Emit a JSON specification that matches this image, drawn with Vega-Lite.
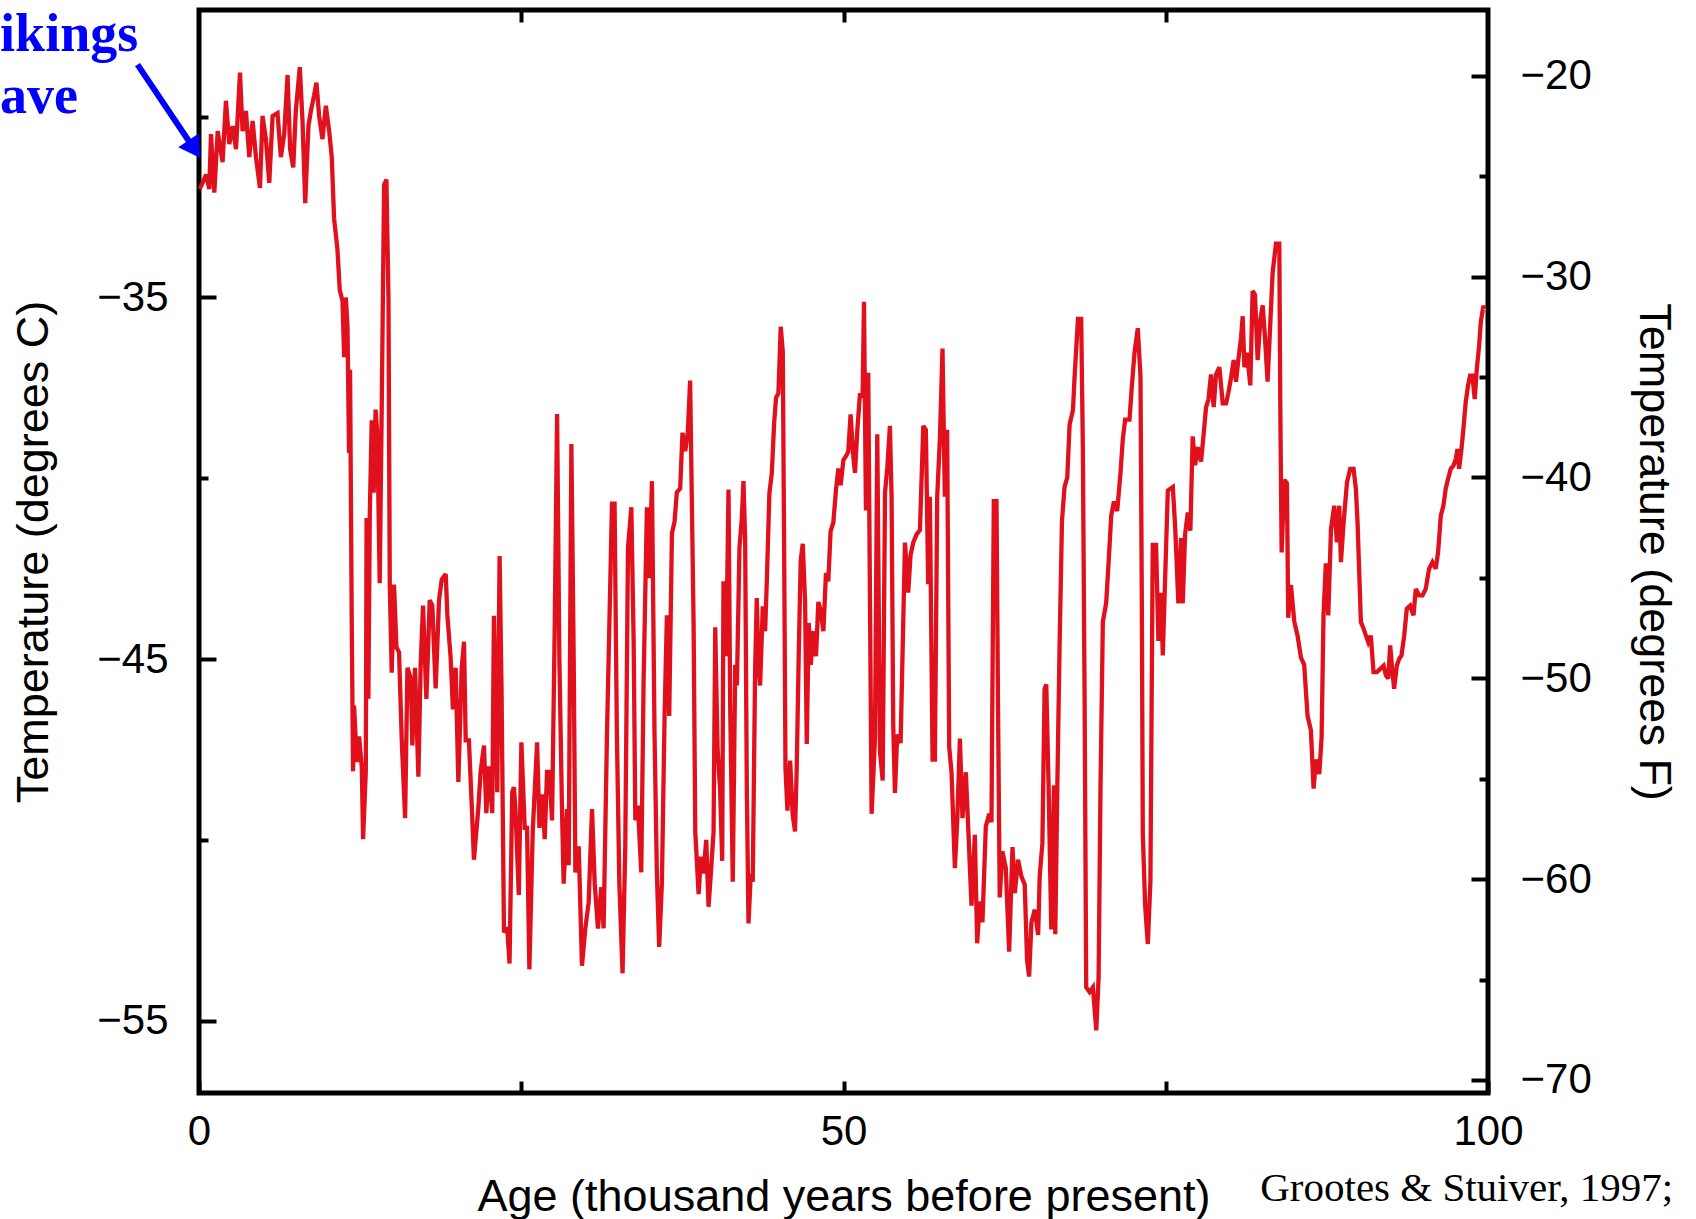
{
  "$schema": "https://vega.github.io/schema/vega-lite/v6.json",
  "width": 1289,
  "height": 1083,
  "autosize": {"type": "none"},
  "padding": {"left": 199, "top": 10, "right": 208, "bottom": 126},
  "background": "white",
  "config": {
    "view": {"stroke": "black", "strokeWidth": 5},
    "axis": {
      "domain": false, "grid": false,
      "labelFont": "Liberation Sans", "titleFont": "Liberation Sans",
      "labelFontSize": 42, "titleFontSize": 45, "titleFontWeight": "normal",
      "labelColor": "black", "titleColor": "black", "tickColor": "black", "tickWidth": 4
    }
  },
  "datasets": {
    "temp": [
      {"age":0.05,"t":-32.0},{"age":0.28,"t":-31.83},{"age":0.55,"t":-31.6},{"age":0.8,"t":-32.0},{"age":0.93,"t":-30.48},{"age":1.19,"t":-32.1},{"age":1.45,"t":-30.4},{"age":1.83,"t":-31.26},{"age":2.09,"t":-29.56},{"age":2.35,"t":-30.76},{"age":2.61,"t":-30.26},{"age":2.87,"t":-30.9},{"age":3.18,"t":-28.78},{"age":3.38,"t":-30.4},{"age":3.64,"t":-29.84},{"age":3.9,"t":-31.12},{"age":4.16,"t":-30.12},{"age":4.42,"t":-31.12},{"age":4.73,"t":-31.97},{"age":4.93,"t":-29.98},{"age":5.19,"t":-30.62},{"age":5.45,"t":-31.83},{"age":5.71,"t":-29.98},{"age":6.09,"t":-29.9},{"age":6.35,"t":-31.12},{"age":6.61,"t":-30.48},{"age":6.87,"t":-28.85},{"age":7.07,"t":-30.9},{"age":7.31,"t":-31.4},{"age":7.51,"t":-29.84},{"age":7.82,"t":-28.63},{"age":8.03,"t":-30.12},{"age":8.24,"t":-32.39},{"age":8.49,"t":-30.26},{"age":8.68,"t":-29.84},{"age":8.93,"t":-29.41},{"age":9.11,"t":-29.06},{"age":9.32,"t":-29.98},{"age":9.58,"t":-30.62},{"age":9.84,"t":-29.7},{"age":10.1,"t":-30.4},{"age":10.3,"t":-31.12},{"age":10.48,"t":-32.82},{"age":10.74,"t":-33.67},{"age":10.92,"t":-34.8},{"age":11.13,"t":-35.09},{"age":11.26,"t":-36.65},{"age":11.39,"t":-35.0},{"age":11.52,"t":-35.8},{"age":11.64,"t":-39.3},{"age":11.72,"t":-37.0},{"age":11.85,"t":-44.0},{"age":11.95,"t":-48.1},{"age":12.03,"t":-46.29},{"age":12.24,"t":-47.85},{"age":12.42,"t":-47.14},{"age":12.63,"t":-48.0},{"age":12.73,"t":-49.98},
      {"age":12.94,"t":-48.1},{"age":13.0,"t":-41.1},{"age":13.14,"t":-46.1},{"age":13.25,"t":-41.0},{"age":13.4,"t":-38.4},{"age":13.55,"t":-40.4},{"age":13.7,"t":-38.1},{"age":13.84,"t":-38.8},{"age":14.02,"t":-42.9},{"age":14.18,"t":-37.9},{"age":14.36,"t":-31.89},{"age":14.54,"t":-31.74},{"age":14.7,"t":-35.05},{"age":14.8,"t":-42.94},{"age":14.95,"t":-45.38},{"age":15.13,"t":-42.94},{"age":15.32,"t":-44.67},{"age":15.52,"t":-44.81},{"age":15.73,"t":-47.25},{"age":15.99,"t":-49.4},{"age":16.17,"t":-45.24},{"age":16.43,"t":-45.53},{"age":16.55,"t":-47.39},{"age":16.76,"t":-45.24},{"age":17.02,"t":-48.25},{"age":17.2,"t":-45.1},{"age":17.38,"t":-43.52},{"age":17.64,"t":-46.1},{"age":17.9,"t":-43.37},{"age":18.1,"t":-43.52},{"age":18.36,"t":-45.81},{"age":18.62,"t":-43.37},{"age":18.83,"t":-42.8},{"age":19.14,"t":-42.65},{"age":19.27,"t":-43.8},{"age":19.52,"t":-44.95},{"age":19.7,"t":-46.39},{"age":19.91,"t":-45.24},{"age":20.12,"t":-48.4},{"age":20.38,"t":-45.24},{"age":20.56,"t":-44.52},{"age":20.69,"t":-47.25},{"age":20.94,"t":-47.25},{"age":21.15,"t":-48.97},{"age":21.33,"t":-50.55},{"age":21.67,"t":-49.12},{"age":21.85,"t":-48.11},{"age":22.11,"t":-47.39},{"age":22.29,"t":-49.26},{"age":22.49,"t":-47.97},{"age":22.75,"t":-49.26},{"age":22.88,"t":-43.8},{"age":23.14,"t":-48.68},{"age":23.32,"t":-42.15},{"age":23.47,"t":-45.81},{"age":23.66,"t":-52.56},{"age":23.91,"t":-52.42},{"age":24.09,"t":-53.42},{"age":24.3,"t":-48.68},{"age":24.43,"t":-48.54},
      {"age":24.55,"t":-49.15},{"age":24.81,"t":-51.52},{"age":25.01,"t":-47.3},{"age":25.27,"t":-49.67},{"age":25.45,"t":-49.67},{"age":25.63,"t":-53.58},{"age":25.89,"t":-49.77},{"age":26.23,"t":-47.3},{"age":26.41,"t":-49.67},{"age":26.62,"t":-48.74},{"age":26.82,"t":-49.98},{"age":27.0,"t":-48.12},{"age":27.18,"t":-48.12},{"age":27.39,"t":-49.46},{"age":27.6,"t":-44.0},{"age":27.78,"t":-38.22},{"age":27.96,"t":-45.03},{"age":28.16,"t":-49.15},{"age":28.29,"t":-51.21},{"age":28.55,"t":-49.15},{"age":28.68,"t":-50.7},{"age":28.89,"t":-39.05},{"age":29.07,"t":-45.03},{"age":29.2,"t":-50.9},{"age":29.46,"t":-50.18},{"age":29.71,"t":-53.48},{"age":29.97,"t":-52.45},{"age":30.23,"t":-51.73},{"age":30.49,"t":-49.15},{"age":30.7,"t":-51.21},{"age":30.95,"t":-52.45},{"age":31.21,"t":-51.31},{"age":31.39,"t":-52.45},{"age":31.65,"t":-47.09},{"age":32.04,"t":-40.7},{"age":32.24,"t":-40.7},{"age":32.42,"t":-47.09},{"age":32.61,"t":-51.21},{"age":32.86,"t":-53.69},{"age":33.07,"t":-50.18},{"age":33.28,"t":-41.93},{"age":33.54,"t":-40.8},{"age":33.72,"t":-44.51},{"age":33.85,"t":-49.46},{"age":34.05,"t":-49.05},{"age":34.31,"t":-50.9},{"age":34.49,"t":-45.65},{"age":34.75,"t":-40.8},{"age":34.93,"t":-42.76},{"age":35.14,"t":-40.08},{"age":35.34,"t":-47.09},{"age":35.52,"t":-50.9},{"age":35.7,"t":-52.96},{"age":35.91,"t":-51.21},{"age":36.12,"t":-46.57},{"age":36.3,"t":-43.79},{"age":36.48,"t":-46.57},{"age":36.69,"t":-41.52},{"age":36.89,"t":-41.21},{"age":37.07,"t":-40.39},{"age":37.33,"t":-40.28},{"age":37.51,"t":-38.74},{"age":37.72,"t":-39.25},{"age":37.92,"t":-38.74},{"age":38.1,"t":-37.3},
      {"age":38.37,"t":-44.0},{"age":38.5,"t":-49.77},{"age":38.76,"t":-51.5},{"age":38.94,"t":-50.46},{"age":39.14,"t":-50.93},{"age":39.35,"t":-50.0},{"age":39.53,"t":-51.85},{"age":39.71,"t":-50.93},{"age":39.92,"t":-49.77},{"age":40.05,"t":-44.12},{"age":40.23,"t":-47.46},{"age":40.43,"t":-48.62},{"age":40.59,"t":-50.58},{"age":40.69,"t":-42.85},{"age":40.9,"t":-44.92},{"age":41.08,"t":-40.31},{"age":41.21,"t":-46.31},{"age":41.41,"t":-51.16},{"age":41.6,"t":-45.16},{"age":41.73,"t":-45.73},{"age":41.93,"t":-41.92},{"age":42.11,"t":-41.12},{"age":42.24,"t":-40.08},{"age":42.37,"t":-41.69},{"age":42.5,"t":-48.62},{"age":42.63,"t":-52.31},{"age":42.81,"t":-50.93},{"age":42.96,"t":-51.16},{"age":43.14,"t":-45.39},{"age":43.27,"t":-43.31},{"age":43.4,"t":-45.16},{"age":43.53,"t":-45.73},{"age":43.74,"t":-43.54},{"age":43.92,"t":-44.23},{"age":44.05,"t":-42.85},{"age":44.25,"t":-40.42},{"age":44.44,"t":-39.85},{"age":44.62,"t":-38.46},{"age":44.77,"t":-37.77},{"age":44.95,"t":-37.65},{"age":45.13,"t":-35.81},{"age":45.29,"t":-36.5},{"age":45.39,"t":-41.69},{"age":45.5,"t":-48.04},{"age":45.65,"t":-49.19},{"age":45.86,"t":-47.81},{"age":46.06,"t":-49.31},{"age":46.24,"t":-49.77},{"age":46.37,"t":-48.04},{"age":46.53,"t":-44.81},{"age":46.68,"t":-42.27},{"age":46.84,"t":-41.81},{"age":47.02,"t":-43.42},{"age":47.15,"t":-47.35},{"age":47.3,"t":-44.0},{"age":47.46,"t":-45.16},{"age":47.66,"t":-44.23},{"age":47.87,"t":-44.92},{"age":48.05,"t":-43.42},{"age":48.23,"t":-43.66},{"age":48.44,"t":-44.23},{"age":48.64,"t":-42.62},{"age":48.82,"t":-42.85},{"age":49.0,"t":-41.46},{"age":49.21,"t":-41.23},{"age":49.42,"t":-40.31},{"age":49.6,"t":-39.73},{"age":49.78,"t":-40.19},{"age":49.99,"t":-39.5},{"age":50.19,"t":-39.39},{"age":50.37,"t":-39.27},{"age":50.55,"t":-38.23},{"age":50.76,"t":-39.39},{"age":50.89,"t":-39.85},{"age":51.07,"t":-38.69},{"age":51.28,"t":-37.65},{"age":51.48,"t":-37.77},{"age":51.59,"t":-35.12},{"age":51.74,"t":-40.89},{"age":51.92,"t":-37.08},
      {"age":52.18,"t":-49.28},{"age":52.44,"t":-47.2},{"age":52.62,"t":-38.78},{"age":52.83,"t":-47.55},{"age":53.04,"t":-48.36},{"age":53.22,"t":-40.4},{"age":53.4,"t":-39.7},{"age":53.6,"t":-38.55},{"age":53.73,"t":-40.51},{"age":53.86,"t":-46.86},{"age":53.99,"t":-48.7},{"age":54.17,"t":-47.09},{"age":54.43,"t":-47.32},{"age":54.77,"t":-41.78},{"age":55.02,"t":-43.16},{"age":55.2,"t":-42.13},{"age":55.41,"t":-41.78},{"age":55.67,"t":-41.55},{"age":55.93,"t":-41.43},{"age":56.19,"t":-38.55},{"age":56.39,"t":-38.66},{"age":56.57,"t":-42.93},{"age":56.7,"t":-40.51},{"age":56.91,"t":-47.78},{"age":57.09,"t":-47.78},{"age":57.27,"t":-40.51},{"age":57.48,"t":-38.89},{"age":57.68,"t":-36.41},{"age":57.86,"t":-40.51},{"age":58.04,"t":-38.66},{"age":58.2,"t":-47.43},{"age":58.38,"t":-48.13},{"age":58.64,"t":-50.78},{"age":58.82,"t":-49.51},{"age":59.03,"t":-47.2},{"age":59.23,"t":-49.4},{"age":59.49,"t":-48.13},{"age":59.7,"t":-49.86},{"age":59.93,"t":-51.82},{"age":60.19,"t":-49.86},{"age":60.37,"t":-52.86},{"age":60.58,"t":-51.7},{"age":60.78,"t":-52.28},{"age":61.04,"t":-49.63},{"age":61.3,"t":-49.28},{"age":61.48,"t":-49.51},{"age":61.66,"t":-40.63},{"age":61.87,"t":-40.63},{"age":61.99,"t":-46.4},{"age":62.12,"t":-51.59},{"age":62.33,"t":-50.32},{"age":62.59,"t":-50.78},{"age":62.85,"t":-53.09},{"age":63.11,"t":-50.2},{"age":63.29,"t":-51.47},{"age":63.54,"t":-50.55},{"age":63.8,"t":-51.01},{"age":64.06,"t":-51.24},{"age":64.24,"t":-53.32},{"age":64.4,"t":-53.78},{"age":64.58,"t":-52.28},{"age":64.84,"t":-51.93},{"age":65.1,"t":-52.63},{"age":65.22,"t":-51.01},{"age":65.43,"t":-50.09},
      {"age":65.6,"t":-45.83},{"age":65.73,"t":-45.7},{"age":65.91,"t":-48.49},{"age":66.12,"t":-52.48},{"age":66.33,"t":-48.49},{"age":66.43,"t":-52.61},{"age":66.59,"t":-48.49},{"age":66.77,"t":-44.5},{"age":66.95,"t":-41.17},{"age":67.15,"t":-40.24},{"age":67.36,"t":-39.98},{"age":67.54,"t":-38.52},{"age":67.8,"t":-38.12},{"age":67.93,"t":-37.18},{"age":68.19,"t":-35.59},{"age":68.44,"t":-35.59},{"age":68.57,"t":-39.18},{"age":68.7,"t":-45.83},{"age":68.83,"t":-54.08},{"age":69.09,"t":-54.21},{"age":69.35,"t":-54.08},{"age":69.61,"t":-55.27},{"age":69.79,"t":-53.81},{"age":69.94,"t":-48.49},{"age":70.12,"t":-43.97},{"age":70.38,"t":-43.44},{"age":70.56,"t":-42.37},{"age":70.77,"t":-41.04},{"age":70.98,"t":-40.64},{"age":71.23,"t":-40.91},{"age":71.49,"t":-39.85},{"age":71.67,"t":-38.91},{"age":71.85,"t":-38.38},{"age":72.19,"t":-38.38},{"age":72.37,"t":-37.45},{"age":72.58,"t":-36.52},{"age":72.83,"t":-35.85},{"age":73.04,"t":-37.18},{"age":73.14,"t":-43.17},{"age":73.22,"t":-49.82},{"age":73.4,"t":-51.81},{"age":73.61,"t":-52.88},{"age":73.81,"t":-51.15},{"age":73.99,"t":-41.84},{"age":74.25,"t":-41.84},{"age":74.43,"t":-44.5},{"age":74.64,"t":-43.17},{"age":74.77,"t":-44.9},
      {"age":75.16,"t":-40.34},{"age":75.55,"t":-40.24},{"age":75.73,"t":-41.35},{"age":75.98,"t":-43.46},{"age":76.19,"t":-41.65},{"age":76.32,"t":-43.46},{"age":76.5,"t":-41.55},{"age":76.71,"t":-40.95},{"age":76.91,"t":-41.45},{"age":77.09,"t":-38.84},{"age":77.28,"t":-39.64},{"age":77.48,"t":-39.14},{"age":77.74,"t":-39.54},{"age":77.95,"t":-38.74},{"age":78.13,"t":-38.03},{"age":78.31,"t":-37.83},{"age":78.51,"t":-37.13},{"age":78.72,"t":-38.03},{"age":78.9,"t":-37.13},{"age":79.16,"t":-36.93},{"age":79.42,"t":-37.93},{"age":79.68,"t":-37.93},{"age":79.86,"t":-37.63},{"age":80.06,"t":-37.23},{"age":80.27,"t":-36.73},{"age":80.45,"t":-37.33},{"age":80.63,"t":-36.73},{"age":80.84,"t":-36.12},{"age":80.97,"t":-35.52},{"age":81.1,"t":-36.93},{"age":81.3,"t":-36.53},{"age":81.56,"t":-37.43},{"age":81.74,"t":-34.82},{"age":81.92,"t":-34.92},{"age":82.13,"t":-36.73},{"age":82.34,"t":-35.62},{"age":82.52,"t":-35.22},{"age":82.7,"t":-36.12},{"age":82.9,"t":-37.33},{"age":83.11,"t":-35.72},{"age":83.29,"t":-34.32},{"age":83.55,"t":-33.51},{"age":83.81,"t":-33.51},{"age":83.89,"t":-38.13},{"age":83.99,"t":-42.05},{"age":84.2,"t":-40.04},{"age":84.4,"t":-40.14},{"age":84.5,"t":-43.86},{"age":84.71,"t":-42.95},{"age":84.97,"t":-43.96},{"age":85.23,"t":-44.36},{"age":85.49,"t":-44.96},{"age":85.74,"t":-45.16},{"age":86.0,"t":-46.57},{"age":86.26,"t":-46.97},{"age":86.47,"t":-48.58},{"age":86.65,"t":-47.78},{"age":86.91,"t":-48.18},{"age":87.09,"t":-47.17},{"age":87.24,"t":-43.76},{"age":87.42,"t":-42.35},
      {"age":87.61,"t":-43.79},{"age":87.82,"t":-41.4},{"age":88.07,"t":-40.76},{"age":88.28,"t":-41.77},{"age":88.46,"t":-40.76},{"age":88.59,"t":-42.32},{"age":88.8,"t":-41.22},{"age":89.06,"t":-40.11},{"age":89.31,"t":-39.74},{"age":89.57,"t":-39.74},{"age":89.75,"t":-40.29},{"age":89.88,"t":-41.22},{"age":90.01,"t":-42.6},{"age":90.14,"t":-43.98},{"age":90.35,"t":-44.16},{"age":90.53,"t":-44.35},{"age":90.71,"t":-44.53},{"age":90.91,"t":-44.35},{"age":91.12,"t":-45.36},{"age":91.38,"t":-45.36},{"age":91.64,"t":-45.27},{"age":91.9,"t":-45.18},{"age":92.08,"t":-45.45},{"age":92.26,"t":-45.54},{"age":92.41,"t":-44.62},{"age":92.59,"t":-45.36},{"age":92.72,"t":-45.82},{"age":92.93,"t":-45.18},{"age":93.11,"t":-44.99},{"age":93.29,"t":-44.9},{"age":93.5,"t":-44.35},{"age":93.7,"t":-43.61},{"age":93.96,"t":-43.52},{"age":94.22,"t":-43.79},{"age":94.4,"t":-43.06},{"age":94.66,"t":-43.24},{"age":94.92,"t":-43.24},{"age":95.17,"t":-43.06},{"age":95.43,"t":-42.5},{"age":95.69,"t":-42.32},{"age":95.95,"t":-42.5},{"age":96.13,"t":-42.04},{"age":96.34,"t":-41.03},{"age":96.54,"t":-40.76},{"age":96.72,"t":-40.29},{"age":96.9,"t":-40.02},{"age":97.11,"t":-39.74},{"age":97.32,"t":-39.65},{"age":97.5,"t":-39.47},{"age":97.63,"t":-39.19},{"age":97.76,"t":-39.74},{"age":97.94,"t":-39.19},{"age":98.09,"t":-38.64},{"age":98.27,"t":-37.9},{"age":98.45,"t":-37.44},{"age":98.61,"t":-37.16},{"age":98.79,"t":-37.16},{"age":98.97,"t":-37.81},{"age":99.13,"t":-36.98},{"age":99.31,"t":-36.34},{"age":99.44,"t":-35.69},{"age":99.64,"t":-35.23},{"age":99.75,"t":-35.32}
    ],
    "labels": [
      {"label": "ikings", "age": -15.43, "t": -28.19},
      {"label": "ave", "age": -15.43, "t": -29.89}
    ],
    "source": [
      {"label": "Grootes & Stuiver, 1997;", "age": 82.33, "t": -60.0}
    ],
    "arrow": [
      {"age": -4.77, "t": -28.56, "age2": -0.36, "t2": -30.9}
    ]
  },
  "layer": [
    {
      "data": {"name": "temp"},
      "mark": {"type": "line", "color": "#e0101c", "strokeWidth": 4.3, "strokeJoin": "miter", "strokeMiterLimit": 3},
      "encoding": {
        "x": {"field": "age", "type": "quantitative",
          "scale": {"domain": [0, 100], "nice": false, "zero": false},
          "axis": {"orient": "bottom", "values": [0, 25, 50, 75, 100], "tickSize": -12, "labelPadding": 30, "labelFlush": false,
            "labelExpr": "datum.value == 0 || datum.value == 50 || datum.value == 100 ? datum.label : ''",
            "title": "Age (thousand years before present)", "titlePadding": 22}},
        "y": {"field": "t", "type": "quantitative",
          "scale": {"domain": [-57, -27.05], "nice": false, "zero": false},
          "axis": {"orient": "left", "values": [-55, -45, -35], "tickSize": -17, "labelPadding": 48,
            "title": "Temperature (degrees C)", "titlePadding": 40}}
      }
    },
    {
      "data": {"name": "temp"},
      "mark": {"type": "line", "opacity": 0},
      "encoding": {
        "x": {"field": "age", "type": "quantitative",
          "scale": {"domain": [0, 100], "nice": false, "zero": false},
          "axis": {"orient": "top", "values": [25, 50, 75], "tickSize": -12, "labels": false, "title": null}},
        "y": {"field": "t", "type": "quantitative",
          "scale": {"domain": [-70.65, -16.72], "nice": false, "zero": false},
          "axis": {"orient": "right", "values": [-70, -60, -50, -40, -30, -20], "tickSize": -17, "labelPadding": 49,
            "title": "Temperature (degrees F)", "titlePadding": 39}}
      }
    },
    {
      "data": {"name": "temp"},
      "mark": {"type": "line", "opacity": 0},
      "encoding": {
        "x": {"field": "age", "type": "quantitative", "scale": {"domain": [0, 100], "nice": false, "zero": false}, "axis": null},
        "y": {"field": "t", "type": "quantitative",
          "scale": {"domain": [-57, -27.05], "nice": false, "zero": false},
          "axis": {"orient": "left", "values": [-50, -40, -30], "tickSize": -9, "labels": false, "title": null}}
      }
    },
    {
      "data": {"name": "temp"},
      "mark": {"type": "line", "opacity": 0},
      "encoding": {
        "x": {"field": "age", "type": "quantitative", "scale": {"domain": [0, 100], "nice": false, "zero": false}, "axis": null},
        "y": {"field": "t", "type": "quantitative",
          "scale": {"domain": [-70.65, -16.72], "nice": false, "zero": false},
          "axis": {"orient": "right", "values": [-65, -55, -45, -35, -25], "tickSize": -9, "labels": false, "title": null}}
      }
    },
    {
      "data": {"name": "labels"},
      "mark": {"type": "text", "font": "Liberation Serif", "fontWeight": "bold", "fontSize": 54, "color": "#0000ff", "align": "left", "baseline": "alphabetic"},
      "encoding": {
        "x": {"field": "age", "type": "quantitative", "scale": {"domain": [0, 100], "nice": false, "zero": false}, "axis": null},
        "y": {"field": "t", "type": "quantitative", "scale": {"domain": [-57, -27.05], "nice": false, "zero": false}, "axis": null},
        "text": {"field": "label"}
      }
    },
    {
      "data": {"name": "source"},
      "mark": {"type": "text", "font": "Liberation Serif", "fontSize": 41, "color": "black", "align": "left", "baseline": "alphabetic"},
      "encoding": {
        "x": {"field": "age", "type": "quantitative", "scale": {"domain": [0, 100], "nice": false, "zero": false}, "axis": null},
        "y": {"field": "t", "type": "quantitative", "scale": {"domain": [-57, -27.05], "nice": false, "zero": false}, "axis": null},
        "text": {"field": "label"}
      }
    },
    {
      "data": {"name": "arrow"},
      "mark": {"type": "rule", "color": "#0000ff", "strokeWidth": 6},
      "encoding": {
        "x": {"field": "age", "type": "quantitative", "scale": {"domain": [0, 100], "nice": false, "zero": false}, "axis": null},
        "y": {"field": "t", "type": "quantitative", "scale": {"domain": [-57, -27.05], "nice": false, "zero": false}, "axis": null},
        "x2": {"field": "age2"},
        "y2": {"field": "t2"}
      }
    },
    {
      "data": {"name": "arrow"},
      "mark": {"type": "point", "shape": "triangle-down", "filled": true, "color": "#0000ff", "opacity": 1, "size": 600, "angle": 326},
      "encoding": {
        "x": {"field": "age2", "type": "quantitative", "scale": {"domain": [0, 100], "nice": false, "zero": false}, "axis": null},
        "y": {"field": "t2", "type": "quantitative", "scale": {"domain": [-57, -27.05], "nice": false, "zero": false}, "axis": null}
      }
    }
  ],
  "resolve": {"scale": {"y": "independent"}, "axis": {"x": "independent", "y": "independent"}}
}
